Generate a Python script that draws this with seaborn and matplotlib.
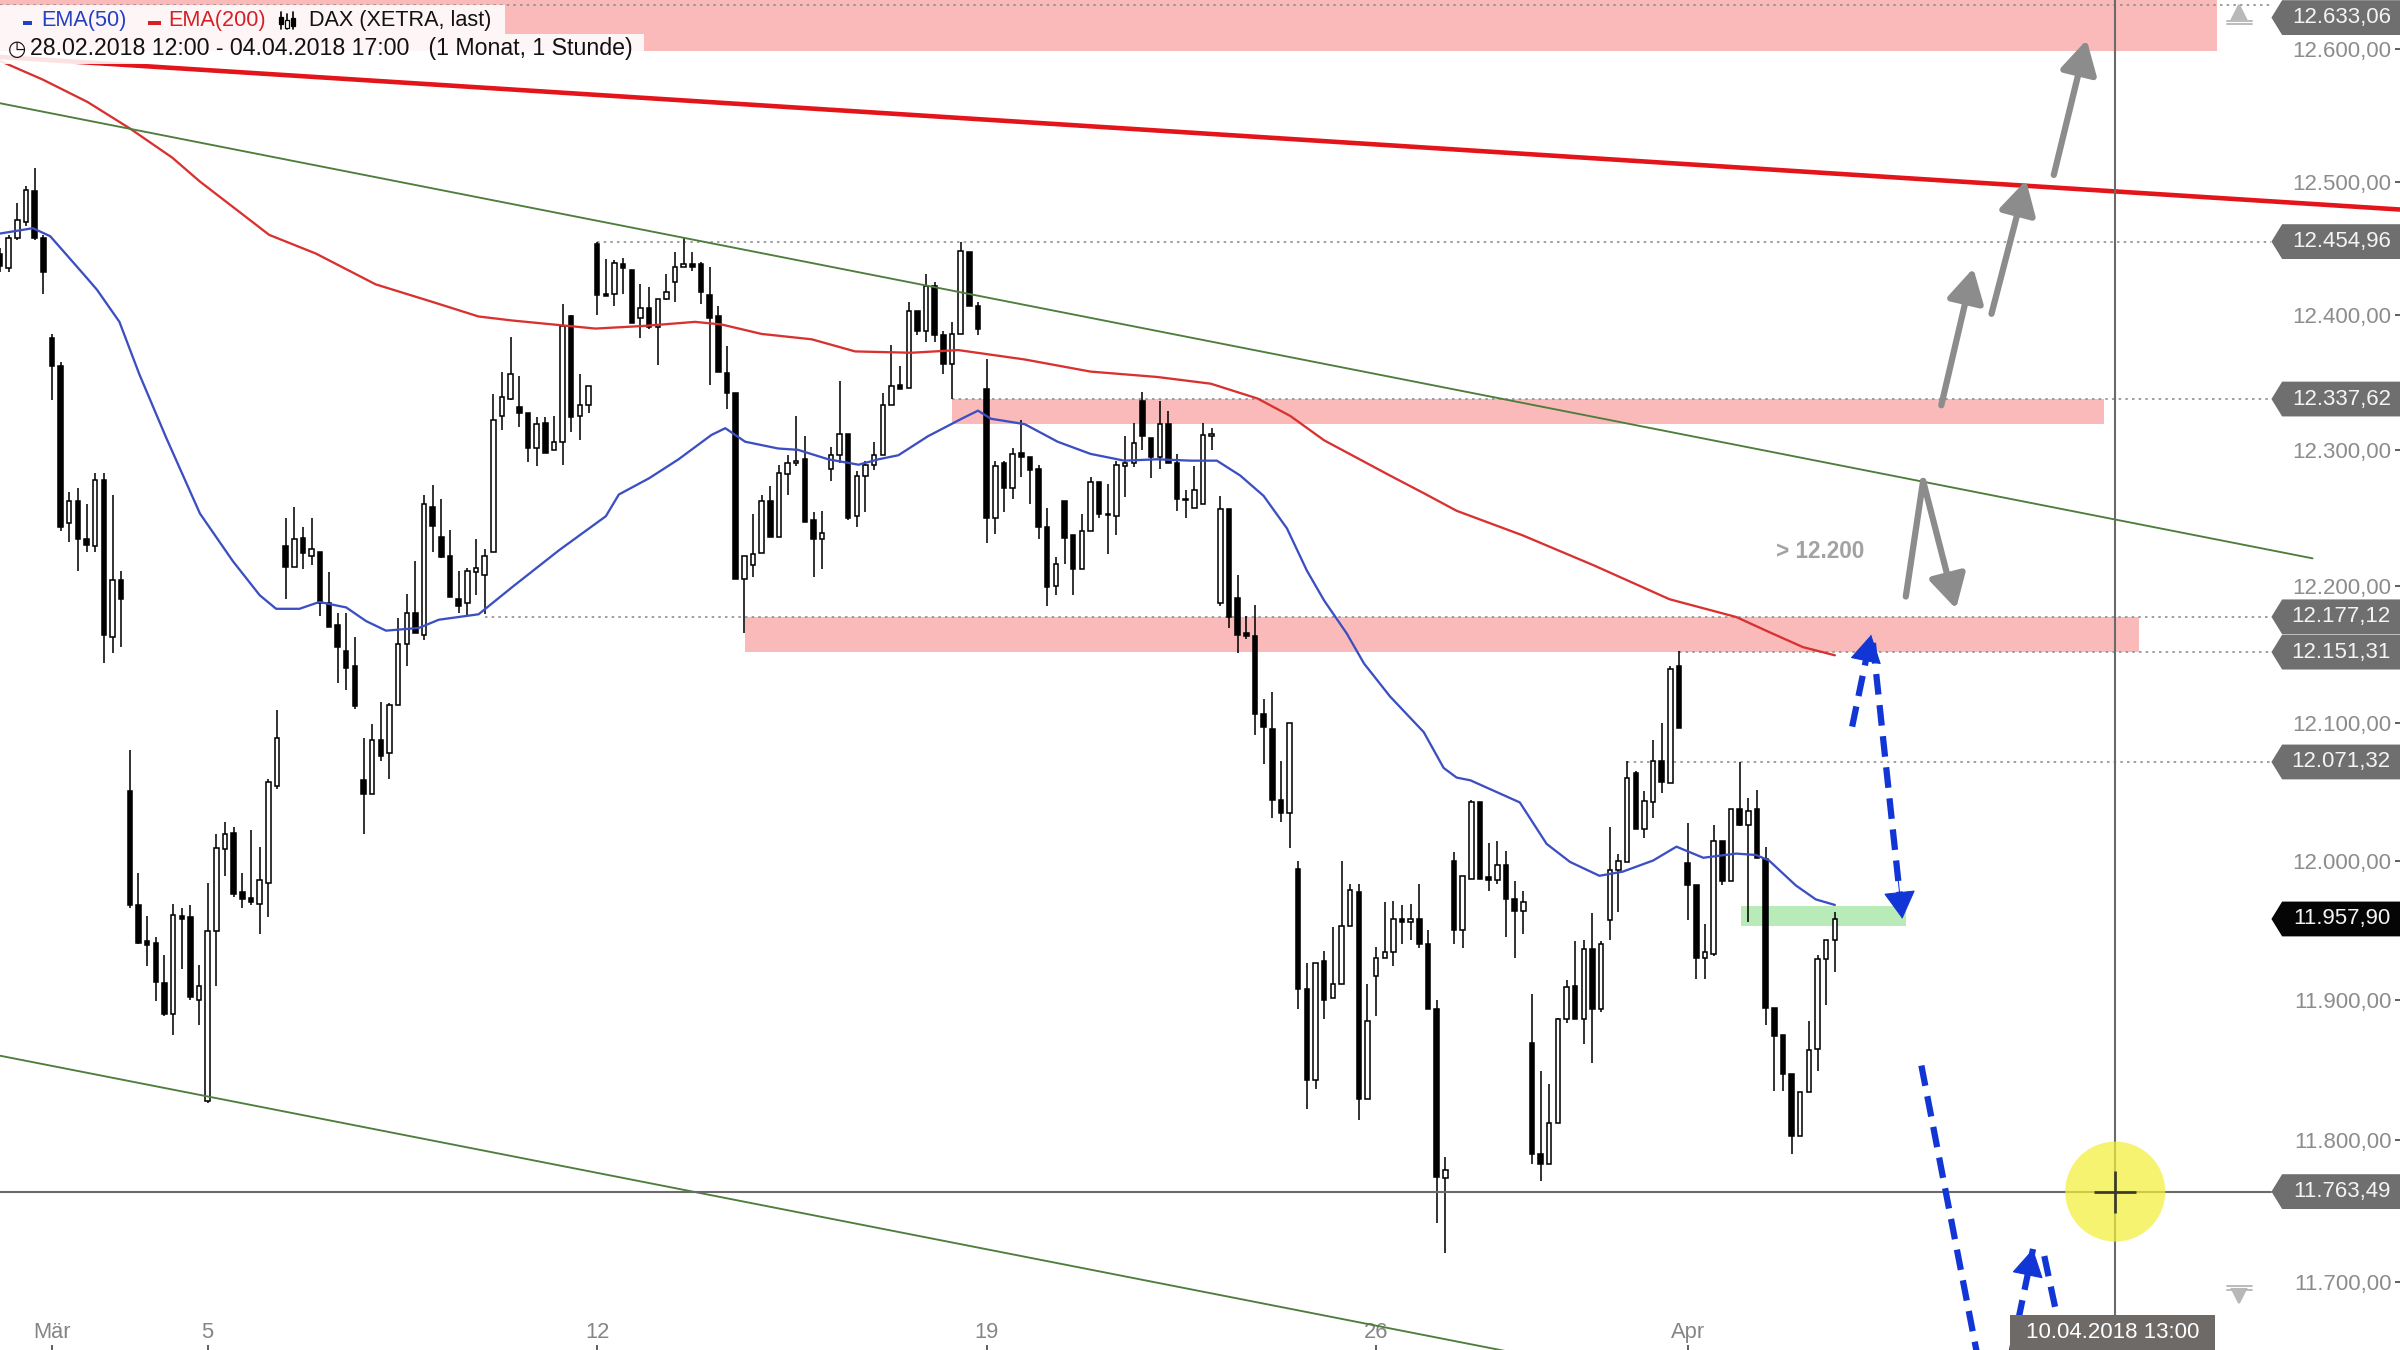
import numpy as np
import matplotlib
matplotlib.use("Agg")
import matplotlib.pyplot as plt
import matplotlib.ticker as mticker
from matplotlib.patches import Polygon, Rectangle
from matplotlib.lines import Line2D
import seaborn as sns

# ---------------- data (hourly DAX candles, 28.02.2018 12:00 - 04.04.2018 17:00) ----------------
opens = [12446, 12435, 12458, 12470, 12493, 12458, 12383, 12362, 12246, 12262, 12234, 12229, 12278, 12162, 12204,
         12050, 11968, 11942, 11941, 11912, 11890, 11960, 11959, 11900, 11828, 11949, 12008, 12020, 11977, 11973,
         11969, 11984, 12054, 12229, 12214, 12235, 12222, 12225, 12187, 12171, 12152, 12141, 12058, 12048, 12087,
         12078, 12113, 12157, 12180, 12164, 12258, 12236, 12222, 12190, 12187, 12210, 12208, 12225, 12325, 12338,
         12332, 12327, 12301, 12320, 12300, 12306, 12399, 12325, 12333, 12453, 12416, 12416, 12438, 12434, 12398,
         12405, 12391, 12412, 12425, 12436, 12438, 12438, 12415, 12399, 12357, 12342, 12205, 12215, 12224, 12262,
         12236, 12282, 12290, 12293, 12248, 12234, 12286, 12296, 12312, 12251, 12281, 12289, 12296, 12333, 12348,
         12346, 12403, 12388, 12422, 12385, 12364, 12386, 12447, 12407, 12345, 12250, 12290, 12272, 12298, 12295,
         12286, 12243, 12200, 12262, 12237, 12212, 12240, 12276, 12253, 12251, 12288, 12290, 12336, 12309, 12295,
         12319, 12290, 12264, 12257, 12260, 12310, 12187, 12256, 12191, 12165, 12163, 12106, 12095, 12044, 12034,
         11994, 11908, 11843, 11928, 11901, 11911, 11953, 11977, 11829, 11917, 11930, 11934, 11958, 11956, 11958,
         11940, 11893, 11773, 12000, 11950, 11987, 12042, 11988, 11986, 11997, 11972, 11964, 11869, 11790, 11783,
         11812, 11886, 11910, 11886, 11936, 11893, 11957, 11993, 11999, 12063, 12023, 12042, 12072, 12056, 12141,
         11998, 11982, 11930, 11933, 12014, 11985, 12037, 12026, 12037, 12001, 11894, 11875, 11847, 11803, 11834,
         11865, 11929, 11943]
highs = [12450, 12460, 12484, 12497, 12510, 12460, 12386, 12365, 12269, 12272, 12260, 12283, 12283, 12267, 12211,
         12080, 11991, 11960, 11945, 11932, 11969, 11966, 11968, 11925, 11984, 12019, 12028, 12024, 11991, 12022,
         12010, 12059, 12109, 12250, 12258, 12243, 12250, 12225, 12210, 12180, 12180, 12162, 12089, 12099, 12115,
         12114, 12176, 12194, 12218, 12267, 12274, 12264, 12241, 12211, 12213, 12234, 12227, 12341, 12358, 12384,
         12355, 12327, 12324, 12324, 12325, 12408, 12400, 12356, 12347, 12455, 12442, 12441, 12443, 12434, 12423,
         12421, 12412, 12431, 12447, 12458, 12447, 12440, 12436, 12407, 12377, 12342, 12222, 12253, 12267, 12273,
         12289, 12296, 12325, 12310, 12254, 12255, 12302, 12351, 12312, 12284, 12292, 12306, 12342, 12378, 12362,
         12410, 12403, 12431, 12425, 12388, 12395, 12455, 12447, 12410, 12367, 12292, 12292, 12301, 12322, 12295,
         12289, 12257, 12221, 12262, 12237, 12253, 12280, 12276, 12275, 12292, 12310, 12320, 12343, 12309, 12336,
         12329, 12297, 12270, 12288, 12320, 12316, 12266, 12256, 12208, 12178, 12186, 12117, 12122, 12072, 12100,
         12000, 11926, 11926, 11935, 11952, 12000, 11983, 11983, 11911, 11938, 11970, 11971, 11968, 11969, 11983,
         11950, 11900, 11788, 12006, 11989, 12044, 12042, 12013, 12014, 12007, 11985, 11978, 11904, 11849, 11840,
         11887, 11914, 11942, 11943, 11962, 11942, 12024, 12005, 12072, 12065, 12050, 12087, 12100, 12141, 12152,
         12027, 11982, 11954, 12026, 12014, 12037, 12071, 12045, 12051, 12010, 11894, 11875, 11847, 11834, 11885,
         11932, 11943, 11963]
lows = [12432, 12432, 12456, 12467, 12456, 12416, 12337, 12240, 12232, 12211, 12225, 12225, 12143, 12151, 12155,
        11966, 11940, 11924, 11899, 11888, 11875, 11922, 11900, 11882, 11826, 11910, 11989, 11974, 11966, 11968,
        11947, 11959, 12052, 12190, 12214, 12212, 12215, 12178, 12170, 12129, 12124, 12110, 12019, 12048, 12072,
        12059, 12113, 12141, 12165, 12160, 12225, 12220, 12192, 12180, 12178, 12193, 12179, 12225, 12315, 12337,
        12317, 12291, 12288, 12298, 12300, 12289, 12313, 12307, 12327, 12400, 12414, 12407, 12416, 12394, 12383,
        12390, 12363, 12411, 12410, 12436, 12433, 12408, 12348, 12358, 12330, 12205, 12165, 12206, 12224, 12236,
        12236, 12267, 12288, 12247, 12206, 12212, 12277, 12290, 12248, 12243, 12254, 12285, 12296, 12333, 12345,
        12346, 12385, 12380, 12380, 12356, 12338, 12386, 12407, 12385, 12231, 12238, 12254, 12264, 12280, 12260,
        12234, 12185, 12193, 12216, 12193, 12212, 12240, 12250, 12223, 12237, 12265, 12287, 12300, 12279, 12286,
        12290, 12255, 12250, 12257, 12260, 12300, 12185, 12169, 12151, 12161, 12091, 12070, 12031, 12028, 12009,
        11893, 11822, 11836, 11886, 11901, 11911, 11953, 11814, 11829, 11888, 11930, 11924, 11940, 11943, 11937,
        11893, 11741, 11720, 11940, 11937, 11987, 11987, 11978, 11983, 11945, 11930, 11947, 11783, 11771, 11783,
        11812, 11883, 11886, 11868, 11855, 11891, 11943, 11963, 11999, 12023, 12016, 12031, 12049, 12056, 12096,
        11957, 11915, 11915, 11931, 11982, 11985, 12025, 11956, 12002, 11882, 11835, 11835, 11790, 11803, 11834,
        11849, 11896, 11920]
closes = [12437, 12458, 12471, 12494, 12458, 12432, 12362, 12243, 12262, 12234, 12230, 12278, 12164, 12204, 12190,
          11968, 11941, 11939, 11913, 11890, 11961, 11958, 11902, 11910, 11949, 12009, 12019, 11976, 11972, 11970,
          11986, 12057, 12089, 12214, 12234, 12224, 12227, 12187, 12170, 12155, 12140, 12112, 12048, 12087, 12076,
          12113, 12157, 12180, 12165, 12260, 12244, 12221, 12192, 12185, 12211, 12213, 12222, 12322, 12339, 12356,
          12327, 12301, 12319, 12298, 12306, 12392, 12324, 12333, 12347, 12415, 12414, 12439, 12435, 12394, 12405,
          12391, 12412, 12417, 12436, 12438, 12436, 12417, 12398, 12358, 12342, 12205, 12222, 12223, 12262, 12236,
          12283, 12290, 12292, 12247, 12234, 12239, 12296, 12312, 12250, 12281, 12289, 12296, 12333, 12347, 12345,
          12403, 12388, 12422, 12385, 12364, 12386, 12448, 12407, 12390, 12250, 12288, 12272, 12297, 12295, 12285,
          12243, 12199, 12216, 12235, 12212, 12240, 12276, 12253, 12252, 12289, 12290, 12305, 12310, 12295, 12319,
          12290, 12264, 12263, 12270, 12311, 12312, 12256, 12177, 12164, 12163, 12106, 12097, 12044, 12034, 12100,
          11908, 11843, 11926, 11900, 11911, 11953, 11979, 11829, 11885, 11930, 11934, 11958, 11956, 11958, 11940,
          11893, 11774, 11779, 11950, 11989, 12042, 11987, 11986, 11997, 11972, 11964, 11970, 11790, 11783, 11812,
          11886, 11909, 11886, 11936, 11893, 11940, 11993, 12000, 12060, 12023, 12043, 12072, 12057, 12139, 12096,
          11982, 11930, 11934, 12014, 11985, 12037, 12026, 12036, 12002, 11894, 11874, 11847, 11803, 11834, 11864,
          11929, 11943, 11957.9]

ema50_idx = [0, 3.8, 5.8, 7.7, 10, 11.2, 13.8, 16.1, 19.2, 23.1, 26.9, 30, 31.9, 34.6, 36.9, 40, 42.3, 44.6,
             48.4, 50.7, 55.3, 59.2, 64.6, 70, 71.5, 75, 78.4, 82.2, 83.8, 86.1, 89.9, 92.2, 95.7, 99.2, 101.5,
             103.8, 107.2, 111.1, 113, 114.5, 118.4, 122.2, 126, 129.9, 133.7, 137.6, 140.6, 143.3, 146, 148.7,
             151, 153, 155.6, 157.6, 160.6, 164.5, 166.8, 168.3, 169.9, 175.6, 178.7, 181.4, 184.8, 187.5, 191,
             193.7, 196.8, 200.6, 202.9, 204.4, 207.5, 209.8, 212]
ema50_val = [12461, 12465, 12459, 12445, 12428, 12419, 12395, 12356, 12309, 12253, 12218, 12193, 12183, 12183,
             12188, 12184, 12174, 12167, 12169, 12175, 12179, 12199, 12226, 12251, 12267, 12279, 12293, 12311,
             12316, 12306, 12301, 12300, 12293, 12289, 12293, 12296, 12310, 12323, 12329, 12323, 12319, 12306,
             12297, 12292, 12293, 12292, 12292, 12281, 12266, 12242, 12211, 12189, 12165, 12143, 12119, 12093,
             12067, 12060, 12058, 12042, 12012, 11999, 11989, 11992, 12000, 12010, 12002, 12005, 12004, 12000,
             11982, 11972, 11968]
ema200_idx = [0, 4.9, 10.1, 15, 19.9, 23.1, 27.7, 31.1, 36.5, 43.4, 49.9, 55.3, 59.2, 68.8, 74.5, 80.3, 83.4,
              88, 93.8, 98.8, 105.3, 110.7, 118.4, 126, 133.7, 139.9, 145.3, 149.1, 153, 156.8, 160.6, 164.5,
              168.3, 175.9, 184.1, 192.9, 200.6, 204.4, 208.3, 212]
ema200_val = [12591, 12577, 12560, 12540, 12518, 12500, 12477, 12460, 12446, 12423, 12410, 12399, 12396, 12390,
              12392, 12395, 12393, 12386, 12382, 12373, 12372, 12374, 12367, 12358, 12354, 12349, 12338, 12325,
              12307, 12294, 12281, 12268, 12255, 12237, 12215, 12190, 12177, 12166, 12155, 12149]

xtick_pos = [6, 24, 69, 114, 159, 195]
xtick_labels = ["Mär", "5", "12", "19", "26", "Apr"]
ytick_vals = [11700, 11800, 11900, 12000, 12100, 12200, 12300, 12400, 12500, 12600]

# marked price levels (label boxes) and where their dotted guide lines start (candle index)
level_vals = [12633.06, 12454.96, 12337.62, 12177.12, 12151.31, 12071.32, 11957.90, 11763.49]
level_start = [0, 69, 110, 56, 194, 188, None, 0]
level_box = ["#6f6f6f", "#6f6f6f", "#6f6f6f", "#6f6f6f", "#6f6f6f", "#6f6f6f", "#050505", "#6f6f6f"]

# zones: (start index, end index, low price, high price)
pink_zones = [(0, 256.1, 12598.5, 12650), (110.0, 243.1, 12319, 12337.62), (86.1, 247.1, 12151.31, 12177.12)]
green_zone = (201.2, 220.2, 11953, 11967)

# trend lines: (index, price) endpoints
red_trend = ([0, 277.3], [12594, 12479])
green_upper = ([0, 267.2], [12559, 12220])
green_lower = ([0, 277.3], [11860, 11529])

# scenario arrows (tail index, tail price, tip index, tip price)
gray_arrows = [(224.3, 12333, 228.0, 12435), (230.1, 12401, 234.1, 12501), (237.3, 12505, 241.1, 12607),
               (222.2, 12277, 226.0, 12183)]
gray_stroke = ([220.2, 222.2], [12192, 12277])
blue_arrows = [(214.0, 12097, 216.2, 12164), (216.4, 12158, 219.8, 11958), (232.2, 11644, 234.9, 11723)]
blue_strokes = [([222.0, 228.6], [11853, 11644]), ([236.2, 237.8], [11718, 11672])]

cross_idx = 244.4
cross_price = 11763.49

# ---------------- styling ----------------
sns.set_theme(style="white")
plt.rcParams["font.family"] = ["Liberation Sans", "DejaVu Sans"]

W, H = 1568.0, 882.0          # reference layout basis
def FX(x): return x / W
def FY(y): return 1 - y / H

fig = plt.figure(figsize=(16, 9), dpi=150, facecolor="white")
ax = fig.add_axes([0, 0, 1, 1])
ax.set_facecolor("white")
for s in ax.spines.values():
    s.set_visible(False)
ax.set_yscale("log")

YMIN, YMAX = 11652, 12637.2
XMAX = 277.3

# zones
for (x0, x1, p0, p1) in pink_zones:
    ax.fill_between([x0, x1], [p0, p0], [p1, p1], color="#fbbaba", lw=0, zorder=1)
ax.fill_between([green_zone[0], green_zone[1]], [green_zone[2]] * 2, [green_zone[3]] * 2,
                color="#b9ebb9", lw=0, zorder=1)

# dotted level guides + crosshair
BOX_TIP = 1484 / 5.655
for v, st in zip(level_vals, level_start):
    if st is None:
        continue
    if v == cross_price:
        ax.plot([st, BOX_TIP], [v, v], color="#6a6a6a", lw=1.0, zorder=5)
    else:
        ax.plot([st, BOX_TIP], [v, v], color="#8f8f8f", lw=0.8, ls=(0, (1.5, 2.5)), zorder=2)
ax.axvline(cross_idx, color="#6a6a6a", lw=1.0, zorder=5)

# candles
o = np.array(opens, float); h = np.array(highs, float)
l = np.array(lows, float); c = np.array(closes, float)
idx = np.arange(len(o))
up = c >= o
ax.vlines(idx, l, h, color="black", lw=0.75, zorder=3)
lo = np.minimum(o, c)
bh = np.maximum(np.abs(c - o), 0.8)
ax.bar(idx[up], bh[up], bottom=lo[up], width=0.52, color="white", edgecolor="black", linewidth=0.75, zorder=3.5)
ax.bar(idx[~up], bh[~up], bottom=lo[~up], width=0.52, color="black", edgecolor="black", linewidth=0.75, zorder=3.5)

# EMAs
sns.lineplot(x=ema200_idx, y=ema200_val, ax=ax, color="#d8312f", lw=1.1, estimator=None, sort=False, zorder=4)
sns.lineplot(x=ema50_idx, y=ema50_val, ax=ax, color="#3c4fc2", lw=1.1, estimator=None, sort=False, zorder=4)

# trend lines
ax.plot(*green_upper, color="#4e7d3c", lw=0.9, zorder=4)
ax.plot(*green_lower, color="#4e7d3c", lw=0.9, zorder=4)
ax.plot(*red_trend, color="#e3151a", lw=2.2, zorder=4.5, solid_capstyle="butt")

# gray scenario arrows
GRAY = "#8c8c8c"
ax.plot(*gray_stroke, color=GRAY, lw=3.0, zorder=5, solid_capstyle="round")
for (x0, p0, x1, p1) in gray_arrows:
    ax.annotate("", xy=(x1, p1), xytext=(x0, p0),
                arrowprops=dict(arrowstyle="-|>,head_length=0.45,head_width=0.25", color=GRAY, lw=3.0,
                                mutation_scale=30, shrinkA=0, shrinkB=0), zorder=5)

# blue dashed arrows
BLUE = "#1236d6"
for (xs, ps) in blue_strokes:
    ax.plot(xs, ps, color=BLUE, lw=3.0, ls=(0, (3.3, 1.7)), zorder=5, solid_capstyle="butt")
for (x0, p0, x1, p1) in blue_arrows:
    ax.plot([x0, x1], [p0, p1], color=BLUE, lw=3.0, ls=(0, (3.3, 1.7)), zorder=5)
    t = 0.82
    hx = x0 + (x1 - x0) * t
    hp = 10 ** (np.log10(p0) + (np.log10(p1) - np.log10(p0)) * t)
    ax.annotate("", xy=(x1, p1), xytext=(hx, hp),
                arrowprops=dict(arrowstyle="-|>,head_length=0.45,head_width=0.26", color=BLUE, lw=0.5,
                                mutation_scale=27, shrinkA=0, shrinkB=0), zorder=5)

ax.text(1218 / 5.655, 12225, "> 12.200", ha="right", va="center", color="#a2a2a2",
        fontsize=10.8, fontweight="bold", zorder=5)

# crosshair highlight
ax.scatter([cross_idx], [cross_price], s=2304, color="#f3ef3a", alpha=0.72, edgecolors="none", zorder=6)
ax.plot([cross_idx], [cross_price], marker="+", ms=20, mew=1.3, color="#3a3a2a", zorder=7)

# limits & ticks
ax.set_xlim(0, XMAX)
ax.set_ylim(YMIN, YMAX)

def de(v):
    return f"{v:,.2f}".replace(",", "X").replace(".", ",").replace("X", ".")

ax.yaxis.tick_right()
ax.set_yticks(ytick_vals)
ax.set_yticklabels([de(v) for v in ytick_vals])
ax.yaxis.set_minor_locator(mticker.NullLocator())
ax.tick_params(axis="y", which="major", direction="in", length=2.5, width=0.8, color="#444444",
               pad=-4.2, labelsize=10.7, labelcolor="#8c8c8c", right=True, left=False)
for t in ax.get_yticklabels():
    t.set_ha("right")

ax.set_xticks(xtick_pos)
ax.set_xticklabels(xtick_labels)
ax.tick_params(axis="x", which="major", direction="in", length=2.5, width=0.8, color="#444444",
               pad=-8.6, labelsize=10.5, labelcolor="#858585", bottom=True)
for t in ax.get_xticklabels():
    t.set_va("center")
ax.grid(False)

# price label boxes on the right (kept fully inside the picture)
to_axes = ax.transAxes.inverted()
half = 17.4 / 1350
tipx, bodyx = 1484 / W, 1491 / W
top_center = 1 - 11.5 / H
for v, col in zip(level_vals, level_box):
    yf = to_axes.transform(ax.transData.transform((0, v)))[1]
    yb = min(yf, top_center)
    poly = Polygon([[tipx, yb], [bodyx, yb + half], [1.0, yb + half], [1.0, yb - half], [bodyx, yb - half]],
                   closed=True, transform=ax.transAxes, fc=col, ec="none", zorder=10, clip_on=False)
    ax.add_patch(poly)
    ax.text(1562 / W, yb, de(v), transform=ax.transAxes, ha="right", va="center", color="#f4f4f4",
            fontsize=10.7, zorder=11, clip_on=False)

# scroll icons
ax.plot([1463 / W], [FY(8)], marker="^", ms=6.5, color="#b8b8b8", transform=ax.transAxes, zorder=9, clip_on=False)
for yy in (13.5, 16):
    ax.plot([1455 / W, 1471 / W], [FY(yy), FY(yy)], color="#b8b8b8", lw=0.9, transform=ax.transAxes, zorder=9)
ax.plot([1463 / W], [FY(847)], marker="v", ms=6.5, color="#b8b8b8", transform=ax.transAxes, zorder=9, clip_on=False)
for yy in (840, 842.5):
    ax.plot([1455 / W, 1471 / W], [FY(yy), FY(yy)], color="#b8b8b8", lw=0.9, transform=ax.transAxes, zorder=9)

# time label at the bottom
fig.add_artist(Rectangle((FX(1313), 0), 134 / W, 23 / H, transform=fig.transFigure, fc="#6e6a67", ec="none",
                         zorder=12))
fig.text(FX(1380), FY(870.5), "10.04.2018 13:00", ha="center", va="center", color="white", fontsize=10.7,
         zorder=13)

# legend header
fig.add_artist(Rectangle((0, FY(22)), 330 / W, 19 / H, transform=fig.transFigure, fc="white", ec="none",
                         alpha=0.88, zorder=8))
fig.add_artist(Rectangle((0, FY(41.5)), 421 / W, 19.5 / H, transform=fig.transFigure, fc="white", ec="none",
                         alpha=0.88, zorder=8))
fig.add_artist(Rectangle((FX(15), FY(16.3)), 6 / W, 2.8 / H, transform=fig.transFigure, fc="#2340c4",
                         ec="none", zorder=9))
fig.add_artist(Rectangle((FX(97), FY(16.3)), 8 / W, 2.8 / H, transform=fig.transFigure, fc="#d62027",
                         ec="none", zorder=9))
fig.text(FX(27), FY(13.5), "EMA(50)", ha="left", va="center", color="#2340c4", fontsize=10.4, zorder=9)
fig.text(FX(110), FY(13.5), "EMA(200)", ha="left", va="center", color="#d62027", fontsize=10.4, zorder=9)
for (xx, y0, y1, b0, b1, fill) in [(183.5, 8, 19, 11, 16, "black"), (187.5, 9, 19, 13, 18, "white"),
                                   (191.5, 8, 19, 12, 17, "black")]:
    fig.add_artist(Line2D([FX(xx), FX(xx)], [FY(y1), FY(y0)], color="black", lw=0.8,
                          transform=fig.transFigure, zorder=9))
    fig.add_artist(Rectangle((FX(xx - 1.3), FY(b1)), 2.6 / W, (b1 - b0) / H, transform=fig.transFigure,
                             fc=fill, ec="black", lw=0.6, zorder=10))
fig.text(FX(201.7), FY(13.5), "DAX (XETRA, last)", ha="left", va="center", color="#111111", fontsize=10.4,
         zorder=9)
fig.text(FX(5), FY(31.8), "◷", ha="left", va="center", color="#111111", fontsize=10,
         family=["DejaVu Sans"], zorder=9)
fig.text(FX(19.3), FY(31.6), "28.02.2018 12:00 - 04.04.2018 17:00   (1 Monat, 1 Stunde)", ha="left",
         va="center", color="#111111", fontsize=11.1, zorder=9)

fig.savefig("out.png", dpi=150, facecolor="white")
